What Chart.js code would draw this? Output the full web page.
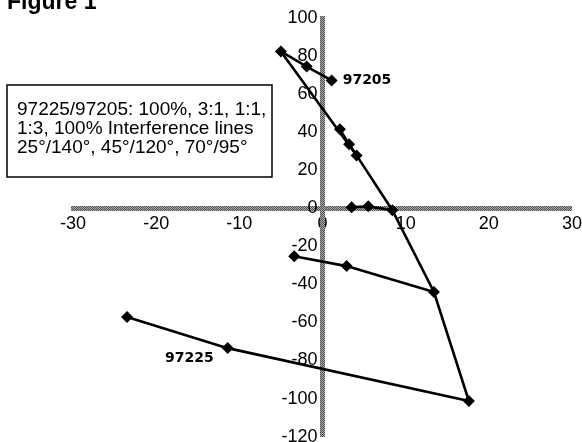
<!DOCTYPE html>
<html>
<head>
<meta charset="utf-8">
<script src="https://cdn.jsdelivr.net/npm/chart.js@4/dist/chart.umd.min.js"></script>
<style>
  html, body { margin: 0; padding: 0; background: #fff; }
  #chart { display: block; }
</style>
</head>
<body>
<canvas id="chart" width="582" height="442"></canvas>
<script>
// Interference lines, one per mixture (points = 25°/140°, 45°/120°, 70°/95°)
const pure97205X = [1.1, -1.9, -5.0];
const pure97205Y = [67.2, 74.5, 82.4];
const mix13X = [2.1, 3.2, 4.1];
const mix13Y = [41.5, 33.6, 27.8];
const mix11X = [3.5, 5.5, 8.4];
const mix11Y = [0.5, 1.0, -1.0];
const mix31X = [-3.4, 2.9, 13.4];
const mix31Y = [-25.2, -30.4, -44.0];
const pure97225X = [-23.5, -11.4, 17.6];
const pure97225Y = [-57.2, -73.5, -101.3];

// Axis ranges
const xMin = -30, xMax = 30, xStep = 10;
const yMin = -120, yMax = 100, yStep = 20;

const legendLines = [
    '97225/97205: 100%, 3:1, 1:1,',
    '1:3, 100% Interference lines',
    '25°/140°, 45°/120°, 70°/95°'
];

function toPoints(xs, ys) {
    return xs.map((x, i) => ({ x: x, y: ys[i] }));
}

// mixing line through the last point of each interference line
const mixSeriesX = [pure97205X, mix13X, mix11X, mix31X, pure97225X];
const mixSeriesY = [pure97205Y, mix13Y, mix11Y, mix31Y, pure97225Y];
const mixLine = mixSeriesX.map((xs, i) => ({ x: xs[2], y: mixSeriesY[i][2] }));

// Hatched grey for the axis lines
function hatch() {
    const c = document.createElement('canvas');
    c.width = 2; c.height = 2;
    const g = c.getContext('2d');
    g.fillStyle = '#b0b0b0'; g.fillRect(0, 0, 2, 2);
    g.fillStyle = '#4a4a4a'; g.fillRect(0, 0, 1, 1); g.fillRect(1, 1, 1, 1);
    return g.createPattern(c, 'repeat');
}
const axisColor = hatch();

const lineStyle = {
    showLine: true,
    borderColor: '#000',
    backgroundColor: '#000',
    borderWidth: 2.6,
    pointStyle: 'rectRot',
    pointRadius: 6,
    pointBorderWidth: 0,
    tension: 0
};

const tickFamily = '"Liberation Sans", Arial, sans-serif';

const annotations = {
    id: 'annotations',
    afterDraw(chart) {
        const ctx = chart.ctx;
        ctx.save();

        // Figure title, clipped at top
        ctx.fillStyle = '#000';
        ctx.font = 'bold 23px "Liberation Sans", Arial, sans-serif';
        ctx.textAlign = 'left';
        ctx.textBaseline = 'alphabetic';
        ctx.fillText('Figure 1', 7, 9);

        // Text box
        ctx.fillStyle = '#fff';
        ctx.fillRect(7, 85, 265, 92);
        ctx.strokeStyle = '#000';
        ctx.lineWidth = 1.5;
        ctx.strokeRect(7, 85, 265, 92);
        ctx.fillStyle = '#000';
        ctx.font = '19px "Liberation Sans", Arial, sans-serif';
        ctx.textBaseline = 'middle';
        legendLines.forEach((t, i) => ctx.fillText(t, 17, 110 + i * 19));

        // Point labels
        ctx.font = 'bold 14px "DejaVu Sans", sans-serif';
        const p05 = chart.getDatasetMeta(0).data[0];
        ctx.textAlign = 'left';
        ctx.fillText('97205', p05.x + 11, p05.y);
        const p25 = chart.getDatasetMeta(4).data[1];
        ctx.textAlign = 'right';
        ctx.fillText('97225', p25.x - 14, p25.y + 10);

        ctx.restore();
    }
};

new Chart(document.getElementById('chart'), {
    type: 'scatter',
    data: {
        datasets: [
            { label: '97205 100%', data: toPoints(pure97205X, pure97205Y), ...lineStyle },
            { label: '1:3', data: toPoints(mix13X, mix13Y), ...lineStyle },
            { label: '1:1', data: toPoints(mix11X, mix11Y), ...lineStyle },
            { label: '3:1', data: toPoints(mix31X, mix31Y), ...lineStyle },
            { label: '97225 100%', data: toPoints(pure97225X, pure97225Y), ...lineStyle },
            { label: 'mixing', data: mixLine, ...lineStyle, pointRadius: 0 }
        ]
    },
    options: {
        responsive: false,
        animation: false,
        devicePixelRatio: 1,
        layout: { autoPadding: false, padding: { left: 73, right: 10, top: 18, bottom: 5 } },
        plugins: {
            legend: { display: false },
            tooltip: { enabled: false }
        },
        scales: {
            x: {
                type: 'linear',
                position: { y: 0 },
                min: xMin, max: xMax,
                ticks: {
                    stepSize: xStep,
                    padding: 0,
                    color: '#000',
                    font: { family: tickFamily, size: 18 }
                },
                // tick marks hidden with the grid, their length only pushes labels down
                grid: { display: false, drawTicks: true, tickLength: 5 },
                border: { display: true, color: axisColor, width: 5 }
            },
            y: {
                type: 'linear',
                position: { x: 0 },
                min: yMin, max: yMax,
                ticks: {
                    stepSize: yStep,
                    padding: 0,
                    color: '#000',
                    font: { family: tickFamily, size: 18, lineHeight: 0.6 },
                    callback: v => v + ' '
                },
                grid: { display: false, drawTicks: false },
                border: { display: true, color: axisColor, width: 5 }
            }
        }
    },
    plugins: [annotations]
});
</script>
</body>
</html>
